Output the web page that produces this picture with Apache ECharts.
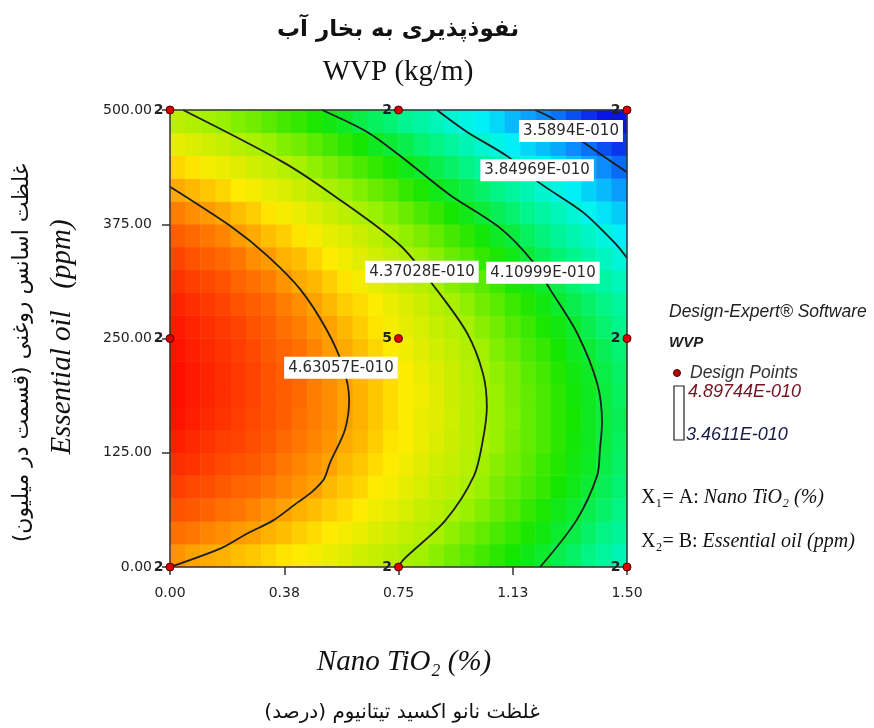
<!DOCTYPE html>
<html><head><meta charset="utf-8">
<script src="https://cdn.jsdelivr.net/npm/echarts@6/dist/echarts.min.js"></script>
<style>html,body{margin:0;padding:0;background:#fff}#c{width:874px;height:728px}</style>
</head><body><div id="c"></div>
<script>
// Cell centres of the response-surface grid (Nano TiO2 %, Essential oil ppm)
const xCenters = [0.025,0.075,0.125,0.175,0.225,0.275,0.325,0.375,0.425,0.475,0.525,0.575,0.625,0.675,0.725,
                  0.775,0.825,0.875,0.925,0.975,1.025,1.075,1.125,1.175,1.225,1.275,1.325,1.375,1.425,1.475];
const yCenters = [12.5,37.5,62.5,87.5,112.5,137.5,162.5,187.5,212.5,237.5,262.5,287.5,312.5,337.5,362.5,387.5,412.5,437.5,462.5,487.5];
const wvpRows = [
 [4.66,4.64,4.63,4.62,4.60,4.59,4.57,4.55,4.54,4.52,4.50,4.48,4.45,4.43,4.41,4.38,4.36,4.33,4.30,4.27,4.24,4.21,4.18,4.15,4.12,4.08,4.05,4.01,3.97,3.93],
 [4.71,4.70,4.68,4.67,4.65,4.64,4.62,4.60,4.58,4.56,4.54,4.52,4.50,4.47,4.45,4.42,4.40,4.37,4.34,4.31,4.28,4.25,4.22,4.19,4.16,4.12,4.09,4.05,4.01,3.98],
 [4.76,4.75,4.73,4.71,4.70,4.68,4.66,4.64,4.62,4.60,4.58,4.56,4.54,4.51,4.49,4.46,4.43,4.41,4.38,4.35,4.32,4.29,4.26,4.22,4.19,4.15,4.12,4.08,4.05,4.01],
 [4.80,4.78,4.77,4.75,4.73,4.72,4.70,4.68,4.66,4.64,4.61,4.59,4.57,4.54,4.52,4.49,4.46,4.43,4.41,4.38,4.35,4.31,4.28,4.25,4.22,4.18,4.15,4.11,4.07,4.03],
 [4.83,4.82,4.80,4.78,4.76,4.75,4.73,4.70,4.68,4.66,4.64,4.61,4.59,4.56,4.54,4.51,4.48,4.45,4.43,4.40,4.36,4.33,4.30,4.27,4.23,4.20,4.16,4.13,4.09,4.05],
 [4.86,4.84,4.82,4.80,4.79,4.77,4.75,4.72,4.70,4.68,4.66,4.63,4.61,4.58,4.55,4.53,4.50,4.47,4.44,4.41,4.38,4.35,4.31,4.28,4.25,4.21,4.17,4.14,4.10,4.06],
 [4.88,4.86,4.84,4.82,4.80,4.78,4.76,4.74,4.71,4.69,4.67,4.64,4.62,4.59,4.56,4.53,4.50,4.48,4.45,4.41,4.38,4.35,4.32,4.28,4.25,4.21,4.18,4.14,4.10,4.07],
 [4.89,4.87,4.85,4.83,4.81,4.79,4.76,4.74,4.72,4.69,4.67,4.64,4.62,4.59,4.56,4.53,4.51,4.48,4.44,4.41,4.38,4.35,4.31,4.28,4.25,4.21,4.17,4.14,4.10,4.06],
 [4.89,4.87,4.85,4.83,4.81,4.79,4.76,4.74,4.72,4.69,4.67,4.64,4.61,4.59,4.56,4.53,4.50,4.47,4.44,4.40,4.37,4.34,4.31,4.27,4.24,4.20,4.16,4.13,4.09,4.05],
 [4.88,4.86,4.84,4.82,4.80,4.78,4.75,4.73,4.71,4.68,4.65,4.63,4.60,4.57,4.54,4.51,4.48,4.45,4.42,4.39,4.36,4.32,4.29,4.25,4.22,4.18,4.14,4.11,4.07,4.03],
 [4.87,4.85,4.83,4.81,4.79,4.76,4.74,4.71,4.69,4.66,4.64,4.61,4.58,4.55,4.52,4.49,4.46,4.43,4.40,4.37,4.33,4.30,4.26,4.23,4.19,4.16,4.12,4.08,4.04,4.00],
 [4.85,4.83,4.81,4.79,4.76,4.74,4.72,4.69,4.67,4.64,4.61,4.58,4.56,4.53,4.50,4.47,4.44,4.40,4.37,4.34,4.30,4.27,4.23,4.20,4.16,4.12,4.08,4.05,4.01,3.97],
 [4.82,4.80,4.78,4.76,4.73,4.71,4.69,4.66,4.63,4.61,4.58,4.55,4.52,4.49,4.46,4.43,4.40,4.37,4.33,4.30,4.27,4.23,4.19,4.16,4.12,4.08,4.04,4.00,3.96,3.92],
 [4.79,4.76,4.74,4.72,4.70,4.67,4.65,4.62,4.60,4.57,4.54,4.51,4.48,4.45,4.42,4.39,4.36,4.33,4.29,4.26,4.22,4.19,4.15,4.11,4.07,4.03,4.00,3.95,3.91,3.87],
 [4.74,4.72,4.70,4.68,4.65,4.63,4.60,4.58,4.55,4.52,4.49,4.47,4.44,4.41,4.37,4.34,4.31,4.28,4.24,4.21,4.17,4.13,4.10,4.06,4.02,3.98,3.94,3.90,3.86,3.81],
 [4.69,4.67,4.65,4.63,4.60,4.58,4.55,4.52,4.50,4.47,4.44,4.41,4.38,4.35,4.32,4.29,4.25,4.22,4.18,4.15,4.11,4.07,4.04,4.00,3.96,3.92,3.88,3.83,3.79,3.75],
 [4.63,4.61,4.59,4.57,4.54,4.52,4.49,4.47,4.44,4.41,4.38,4.35,4.32,4.29,4.26,4.22,4.19,4.15,4.12,4.08,4.05,4.01,3.97,3.93,3.89,3.85,3.81,3.76,3.72,3.67],
 [4.57,4.55,4.52,4.50,4.48,4.45,4.43,4.40,4.37,4.34,4.31,4.28,4.25,4.22,4.19,4.15,4.12,4.08,4.05,4.01,3.97,3.93,3.89,3.85,3.81,3.77,3.73,3.68,3.64,3.59],
 [4.49,4.47,4.45,4.43,4.40,4.38,4.35,4.32,4.30,4.27,4.24,4.21,4.18,4.14,4.11,4.08,4.04,4.01,3.97,3.93,3.89,3.85,3.81,3.77,3.73,3.69,3.64,3.60,3.55,3.51],
 [4.41,4.39,4.37,4.35,4.32,4.30,4.27,4.24,4.22,4.19,4.16,4.13,4.09,4.06,4.03,3.99,3.96,3.92,3.88,3.85,3.81,3.77,3.72,3.68,3.64,3.60,3.55,3.50,3.46,3.41]
];
const wvpMin = 3.4611, wvpMax = 4.89744;
const xTickLabels = ['0.00','0.38','0.75','1.13','1.50'];
const yTickLabels = ['0.00','125.00','250.00','375.00','500.00'];
// contour lines [Nano TiO2, Essential oil]
const contour463 = [[0,416],[0.207,371],[0.318,341],[0.427,304],[0.515,259],[0.568,219],[0.588,183],[0.574,150],[0.525,114],[0.505,96],[0.465,82],[0.42,71],[0.339,51],[0.255,37],[0.17,21],[0,0]];
const contour437 = [[0.043,500],[0.371,443],[0.535,407],[0.755,352],[0.876,303],[0.975,256],[1.027,212],[1.040,175],[1.027,139],[0.998,100],[0.904,51],[0.769,9],[0.748,0]];
const contour411 = [[0.499,500],[0.647,476],[0.755,450],[0.919,407],[1.083,371],[1.191,334],[1.247,304],[1.336,256],[1.402,201],[1.418,158],[1.411,128],[1.402,100],[1.334,51],[1.215,0]];
const contour385 = [[0.876,500],[0.975,476],[1.109,449],[1.214,420],[1.356,388],[1.467,352],[1.5,338]];
const contour359 = [[1.198,500],[1.254,491],[1.369,462],[1.5,432]];
const contourLabels = [
  [1.316,477,'3.5894E-010'],
  [1.205,434,'3.84969E-010'],
  [0.827,323,'4.37028E-010'],
  [1.224,322,'4.10999E-010'],
  [0.561,218,'4.63057E-010']
];
const designX = [0,0.75,1.5,0,0.75,1.5,0,0.75,1.5];
const designY = [0,0,0,250,250,250,500,500,500];
const designCount = [2,2,2,2,5,2,2,2,2];

const chart = echarts.init(document.getElementById('c'));
const G = {left:170, top:110, width:457, height:457};
const heatData = [];
wvpRows.forEach((row, r) => row.forEach((v, i) => heatData.push([i, r, v])));
const axisCol = '#333';
const lineStyleC = {color:'#1e1e1e', width:1.8};
function contourSeries(d){
  return {type:'line', xAxisIndex:1, yAxisIndex:1, data:d, smooth:0.3, showSymbol:false, symbol:'none',
    lineStyle:lineStyleC, z:5, silent:true, animation:false};
}
function T(x, y, text, font, fill, align, extra){
  return Object.assign({type:'text', x:x, y:y, style:{text:text, font:font, fill:fill, align:align, verticalAlign:'middle', textAlign:align, textVerticalAlign:'middle'}}, extra || {});
}
const option = {
  animation:false,
  backgroundColor:'#fff',
  grid:[Object.assign({}, G), Object.assign({}, G)],
  xAxis:[
    {gridIndex:0, type:'category', data:xCenters.map(String), show:false},
    {gridIndex:1, type:'value', min:0, max:1.5, interval:0.375, position:'bottom', z:10,
      axisLine:{show:true, onZero:false, lineStyle:{color:axisCol, width:1.5}},
      axisTick:{show:true, length:8, lineStyle:{color:axisCol, width:1.5}},
      axisLabel:{margin:19, fontSize:14, color:'#222', fontFamily:'DejaVu Sans',
        formatter:v => xTickLabels[Math.round(v/0.375)]},
      splitLine:{show:false}},
    {gridIndex:1, type:'value', min:0, max:1.5, position:'top', z:10,
      axisLine:{show:true, onZero:false, lineStyle:{color:axisCol, width:1.5}},
      axisTick:{show:false}, axisLabel:{show:false}, splitLine:{show:false}}
  ],
  yAxis:[
    {gridIndex:0, type:'category', data:yCenters.map(String), show:false},
    {gridIndex:1, type:'value', min:0, max:500, interval:125, position:'left', z:10,
      axisLine:{show:true, onZero:false, lineStyle:{color:axisCol, width:1.5}},
      axisTick:{show:true, length:8, lineStyle:{color:axisCol, width:1.5}},
      axisLabel:{margin:18, fontSize:14, color:'#222', fontFamily:'DejaVu Sans',
        formatter:v => yTickLabels[Math.round(v/125)]},
      splitLine:{show:false}},
    {gridIndex:1, type:'value', min:0, max:500, position:'right', z:10,
      axisLine:{show:true, onZero:false, lineStyle:{color:axisCol, width:1.5}},
      axisTick:{show:false}, axisLabel:{show:false}, splitLine:{show:false}}
  ],
  visualMap:{type:'continuous', show:false, seriesIndex:0, min:wvpMin, max:wvpMax,
    inRange:{color:['#0a14e6','#0a8cff','#00f5f5','#00f58c','#14e600','#a0f000','#ffec00','#ff6a00','#ff0a00']}},
  series:[
    {type:'heatmap', xAxisIndex:0, yAxisIndex:0, data:heatData, silent:true, itemStyle:{borderWidth:0}, z:1},
    contourSeries(contour463),
    contourSeries(contour437),
    contourSeries(contour411),
    contourSeries(contour385),
    contourSeries(contour359),
    {type:'scatter', xAxisIndex:1, yAxisIndex:1, z:6, silent:true, symbolSize:1,
      itemStyle:{color:'rgba(0,0,0,0)', opacity:1},
      data:contourLabels.map(d => ({value:[d[0], d[1]], name:d[2]})),
      label:{show:true, position:'inside', formatter:p => p.name, backgroundColor:'#fff',
        padding:[4,4,3,4], fontSize:15, color:'#2a2a2a', fontFamily:'DejaVu Sans'}},
    {type:'scatter', xAxisIndex:1, yAxisIndex:1, z:12, silent:true, clip:false, symbolSize:8,
      itemStyle:{color:'#d80000', borderColor:'#500000', borderWidth:1, opacity:1},
      data:designX.map((x, i) => [x, designY[i], designCount[i]]),
      label:{show:true, position:'left', distance:2, formatter:p => String(p.value[2]),
        fontSize:14, fontWeight:'bold', color:'#222', fontFamily:'DejaVu Sans'}}
  ],
  graphic:[
    T(398, 30, '\u200Fنفوذپذیری به بخار آب\u200F', 'bold 23px "DejaVu Sans"', '#111', 'center'),
    T(398, 72, 'WVP (kg/m)', '29px "Liberation Serif"', '#111', 'center'),
    T(22, 353, '\u200Fغلظت اسانس روغنی (قسمت در میلیون)\u200F', '22px "DejaVu Sans"', '#111', 'center', {rotation:Math.PI/2}),
    T(62, 337, 'Essential oil   (ppm)', 'italic 29px "Liberation Serif"', '#111', 'center', {rotation:Math.PI/2}),
    T(404, 662, 'Nano TiO\u2082 (%)', 'italic 29px "Liberation Serif"', '#111', 'center'),
    T(402, 713, '\u200Fغلظت نانو اکسید تیتانیوم (درصد)\u200F', '20px "DejaVu Sans"', '#111', 'center'),
    T(669, 312, 'Design-Expert® Software', 'italic 17.5px "Liberation Sans"', '#222', 'left'),
    T(669, 343, 'WVP', 'italic bold 15px "Liberation Sans"', '#222', 'left'),
    {type:'circle', shape:{cx:677, cy:373, r:3.5}, style:{fill:'#c00000', stroke:'#500000', lineWidth:1}},
    T(690, 373, 'Design Points', 'italic 17.5px "Liberation Sans"', '#333', 'left'),
    {type:'rect', shape:{x:674, y:386, width:10, height:54}, style:{fill:'none', stroke:'#222', lineWidth:1.2}},
    T(688, 392, '4.89744E-010', 'italic 18px "Liberation Sans"', '#7a1020', 'left'),
    T(686, 435, '3.4611E-010', 'italic 18px "Liberation Sans"', '#1a1a4a', 'left'),
    {type:'text', x:641, y:498, style:{text:'{r|X\u2081= A: }{i|Nano TiO\u2082 (%)}', align:'left', verticalAlign:'middle', textAlign:'left', textVerticalAlign:'middle',
      rich:{r:{font:'20px "Liberation Serif"', fill:'#111', color:'#111'}, i:{font:'italic 20px "Liberation Serif"', fill:'#111', color:'#111'}}}},
    {type:'text', x:641, y:542, style:{text:'{r|X\u2082= B: }{i|Essential oil (ppm)}', align:'left', verticalAlign:'middle', textAlign:'left', textVerticalAlign:'middle',
      rich:{r:{font:'20px "Liberation Serif"', fill:'#111', color:'#111'}, i:{font:'italic 20px "Liberation Serif"', fill:'#111', color:'#111'}}}}
  ]
};
chart.setOption(option);
</script></body></html>
